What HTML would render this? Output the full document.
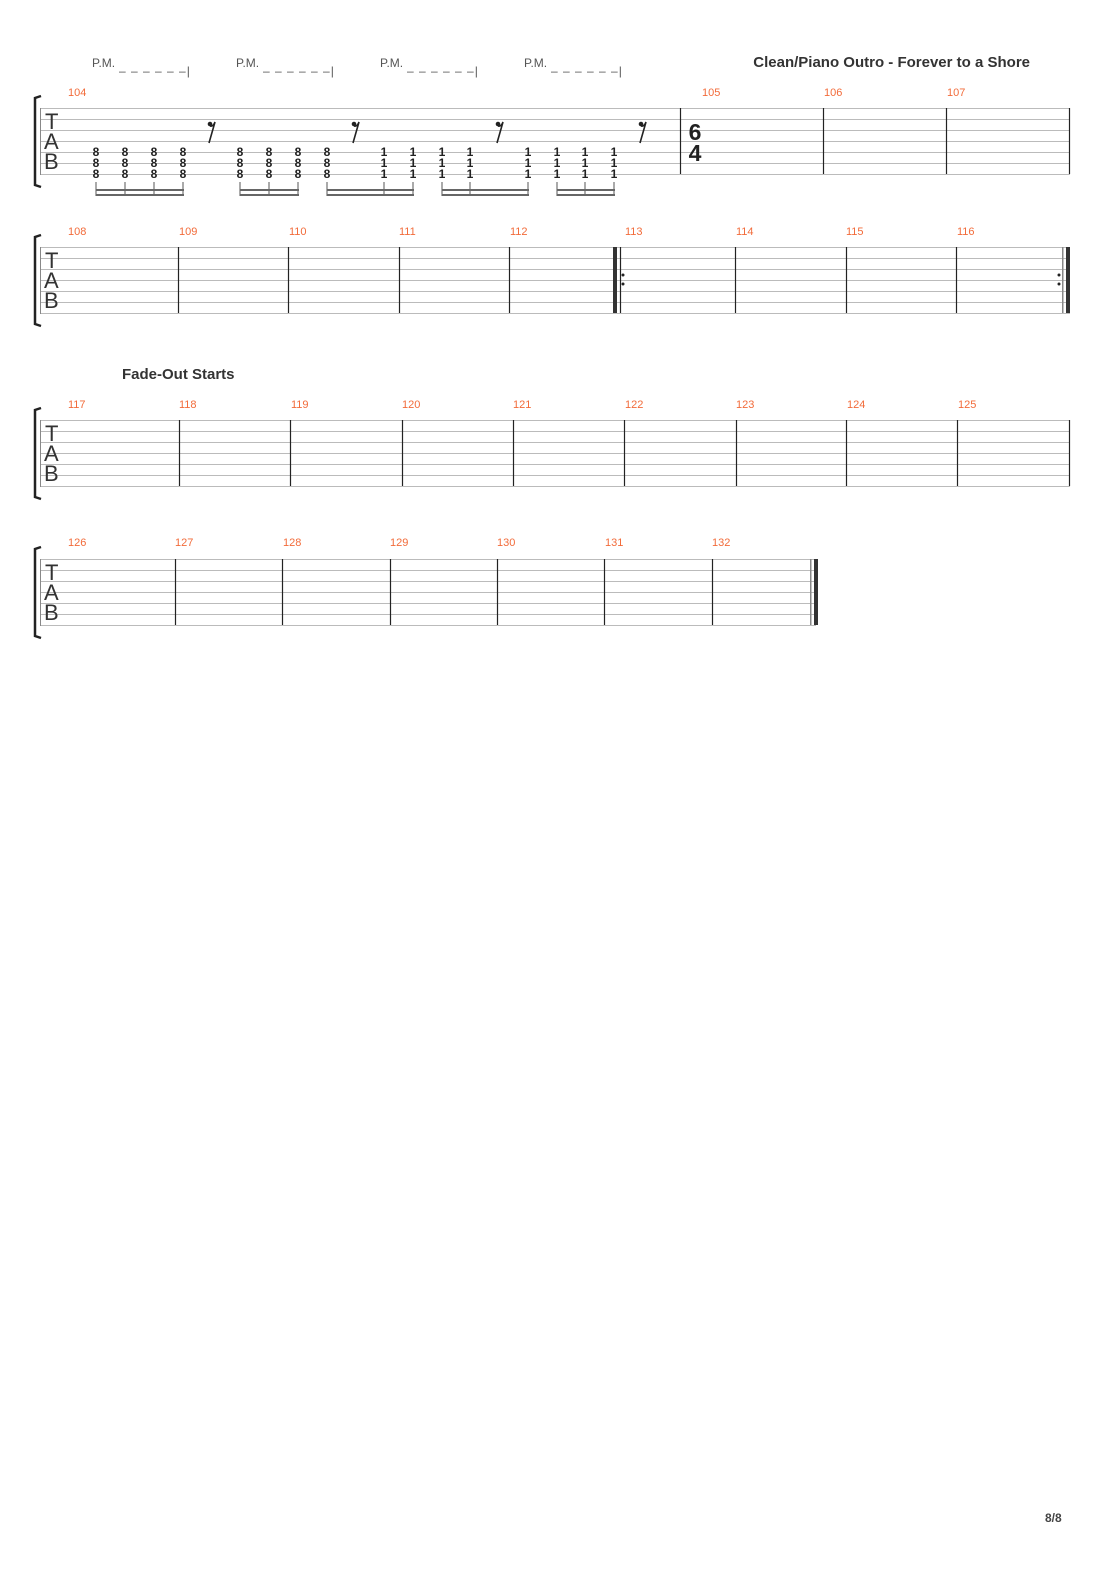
<!DOCTYPE html>
<html><head><meta charset="utf-8"><style>
body{margin:0;background:#fff}
svg{display:block}
text{font-family:"Liberation Sans",sans-serif}
.n{font-size:11px;fill:#f26b3a}
.f{font-size:12px;font-weight:bold;fill:#222;text-anchor:middle}
.pm{font-size:12px;fill:#555}
.tab{font-size:22px;fill:#333}
</style></head><body>
<svg width="1110" height="1570" viewBox="0 0 1110 1570">
<defs>
<g id="st"><g stroke="#bbb" stroke-width="1">
<line x1="40" y1="0.5" x2="1070" y2="0.5"/><line x1="40" y1="11.5" x2="1070" y2="11.5"/><line x1="40" y1="22.5" x2="1070" y2="22.5"/><line x1="40" y1="33.5" x2="1070" y2="33.5"/><line x1="40" y1="44.5" x2="1070" y2="44.5"/><line x1="40" y1="55.5" x2="1070" y2="55.5"/><line x1="40" y1="66.5" x2="1070" y2="66.5"/></g>
<line x1="40.5" y1="0" x2="40.5" y2="67" stroke="#888"/>
<path d="M41 -12 L35 -10 L35 77 L41 79" fill="none" stroke="#222" stroke-width="2.5"/>
<text class="tab" x="45" y="21">T</text><text class="tab" x="44" y="41">A</text><text class="tab" x="44" y="61">B</text>
</g>
<g id="st2"><g stroke="#bbb" stroke-width="1">
<line x1="40" y1="0.5" x2="816" y2="0.5"/><line x1="40" y1="11.5" x2="816" y2="11.5"/><line x1="40" y1="22.5" x2="816" y2="22.5"/><line x1="40" y1="33.5" x2="816" y2="33.5"/><line x1="40" y1="44.5" x2="816" y2="44.5"/><line x1="40" y1="55.5" x2="816" y2="55.5"/><line x1="40" y1="66.5" x2="816" y2="66.5"/></g>
<line x1="40.5" y1="0" x2="40.5" y2="67" stroke="#888"/>
<path d="M41 -12 L35 -10 L35 77 L41 79" fill="none" stroke="#222" stroke-width="2.5"/>
<text class="tab" x="45" y="21">T</text><text class="tab" x="44" y="41">A</text><text class="tab" x="44" y="61">B</text>
</g>
<g id="c8"><text class="f" x="0" y="4">8</text><text class="f" x="0" y="15">8</text><text class="f" x="0" y="26">8</text><line x1="0" y1="30" x2="0" y2="44" stroke="#555"/></g>
<g id="c1"><text class="f" x="0" y="4">1</text><text class="f" x="0" y="15">1</text><text class="f" x="0" y="26">1</text><line x1="0" y1="30" x2="0" y2="44" stroke="#555"/></g>
<g id="r"><circle cx="-2" cy="-17" r="2.3" fill="#222"/><path d="M-2 -15 Q1 -14 3 -19 L-3 2" fill="none" stroke="#222" stroke-width="1.6"/></g>
</defs>

<text class="pm" x="92" y="67">P.M.</text><text class="pm" x="119" y="75" letter-spacing="1">– – – – – –|</text>
<text class="pm" x="236" y="67">P.M.</text><text class="pm" x="263" y="75" letter-spacing="1">– – – – – –|</text>
<text class="pm" x="380" y="67">P.M.</text><text class="pm" x="407" y="75" letter-spacing="1">– – – – – –|</text>
<text class="pm" x="524" y="67">P.M.</text><text class="pm" x="551" y="75" letter-spacing="1">– – – – – –|</text>
<text x="1030" y="67" text-anchor="end" font-size="15" font-weight="bold" fill="#333">Clean/Piano Outro - Forever to a Shore</text>

<g transform="translate(0,108)"><use href="#st"/>
<g stroke="#222" stroke-width="1.2"><line x1="680.5" y1="0" x2="680.5" y2="66"/><line x1="823.5" y1="0" x2="823.5" y2="66"/><line x1="946.5" y1="0" x2="946.5" y2="66"/><line x1="1069.5" y1="0" x2="1069.5" y2="66"/></g>
</g>
<text class="n" x="68" y="96">104</text><text class="n" x="702" y="96">105</text><text class="n" x="824" y="96">106</text><text class="n" x="947" y="96">107</text>
<text x="695" y="140" text-anchor="middle" font-family="Liberation Serif,serif" font-size="23" font-weight="bold" fill="#222">6</text>
<text x="695" y="161" text-anchor="middle" font-family="Liberation Serif,serif" font-size="23" font-weight="bold" fill="#222">4</text>
<g transform="translate(0,152)">
<use href="#c8" x="96"/><use href="#c8" x="125"/><use href="#c8" x="154"/><use href="#c8" x="183"/>
<use href="#c8" x="240"/><use href="#c8" x="269"/><use href="#c8" x="298"/><use href="#c8" x="327"/>
<use href="#c1" x="384"/><use href="#c1" x="413"/><use href="#c1" x="442"/><use href="#c1" x="470"/>
<use href="#c1" x="528"/><use href="#c1" x="557"/><use href="#c1" x="585"/><use href="#c1" x="614"/>
</g>
<g fill="#666"><rect x="96" y="189" width="88" height="2"/><rect x="96" y="194" width="88" height="2"/>
<rect x="240" y="189" width="59" height="2"/><rect x="240" y="194" width="59" height="2"/>
<rect x="327" y="189" width="87" height="2"/><rect x="327" y="194" width="87" height="2"/>
<rect x="442" y="189" width="87" height="2"/><rect x="442" y="194" width="87" height="2"/>
<rect x="557" y="189" width="58" height="2"/><rect x="557" y="194" width="58" height="2"/></g>
<use href="#r" x="212" y="141"/><use href="#r" x="356" y="141"/><use href="#r" x="500" y="141"/><use href="#r" x="643" y="141"/>

<g transform="translate(0,247)"><use href="#st"/>
<g stroke="#222" stroke-width="1.2"><line x1="178.5" y1="0" x2="178.5" y2="66"/><line x1="288.5" y1="0" x2="288.5" y2="66"/><line x1="399.5" y1="0" x2="399.5" y2="66"/><line x1="509.5" y1="0" x2="509.5" y2="66"/>
<line x1="620.5" y1="0" x2="620.5" y2="66"/><line x1="735.5" y1="0" x2="735.5" y2="66"/><line x1="846.5" y1="0" x2="846.5" y2="66"/><line x1="956.5" y1="0" x2="956.5" y2="66"/></g>
<rect x="613" y="0" width="4" height="66" fill="#333"/>
<rect x="1062" y="0" width="1.5" height="66" fill="#888"/><rect x="1066" y="0" width="4" height="66" fill="#333"/>
<circle cx="623" cy="28" r="1.5" fill="#222"/><circle cx="623" cy="37" r="1.5" fill="#222"/>
<circle cx="1059" cy="28" r="1.5" fill="#222"/><circle cx="1059" cy="37" r="1.5" fill="#222"/>
</g>
<text class="n" x="68" y="235">108</text><text class="n" x="179" y="235">109</text><text class="n" x="289" y="235">110</text><text class="n" x="399" y="235">111</text><text class="n" x="510" y="235">112</text><text class="n" x="625" y="235">113</text><text class="n" x="736" y="235">114</text><text class="n" x="846" y="235">115</text><text class="n" x="957" y="235">116</text>

<text x="122" y="379" font-size="15" font-weight="bold" fill="#333">Fade-Out Starts</text>
<g transform="translate(0,420)"><use href="#st"/>
<g stroke="#222" stroke-width="1.2"><line x1="179.5" y1="0" x2="179.5" y2="66"/><line x1="290.5" y1="0" x2="290.5" y2="66"/><line x1="402.5" y1="0" x2="402.5" y2="66"/><line x1="513.5" y1="0" x2="513.5" y2="66"/><line x1="624.5" y1="0" x2="624.5" y2="66"/><line x1="736.5" y1="0" x2="736.5" y2="66"/><line x1="846.5" y1="0" x2="846.5" y2="66"/><line x1="957.5" y1="0" x2="957.5" y2="66"/><line x1="1069.5" y1="0" x2="1069.5" y2="66"/></g>
</g>
<text class="n" x="68" y="408">117</text><text class="n" x="179" y="408">118</text><text class="n" x="291" y="408">119</text><text class="n" x="402" y="408">120</text><text class="n" x="513" y="408">121</text><text class="n" x="625" y="408">122</text><text class="n" x="736" y="408">123</text><text class="n" x="847" y="408">124</text><text class="n" x="958" y="408">125</text>

<g transform="translate(0,559)"><use href="#st2"/>
<g stroke="#222" stroke-width="1.2"><line x1="175.5" y1="0" x2="175.5" y2="66"/><line x1="282.5" y1="0" x2="282.5" y2="66"/><line x1="390.5" y1="0" x2="390.5" y2="66"/><line x1="497.5" y1="0" x2="497.5" y2="66"/><line x1="604.5" y1="0" x2="604.5" y2="66"/><line x1="712.5" y1="0" x2="712.5" y2="66"/></g>
<rect x="810" y="0" width="1.5" height="66" fill="#888"/><rect x="814" y="0" width="4" height="66" fill="#333"/>
</g>
<text class="n" x="68" y="546">126</text><text class="n" x="175" y="546">127</text><text class="n" x="283" y="546">128</text><text class="n" x="390" y="546">129</text><text class="n" x="497" y="546">130</text><text class="n" x="605" y="546">131</text><text class="n" x="712" y="546">132</text>

<text x="1045" y="1522" font-size="12" font-weight="bold" fill="#444">8/8</text>
</svg>
</body></html>
